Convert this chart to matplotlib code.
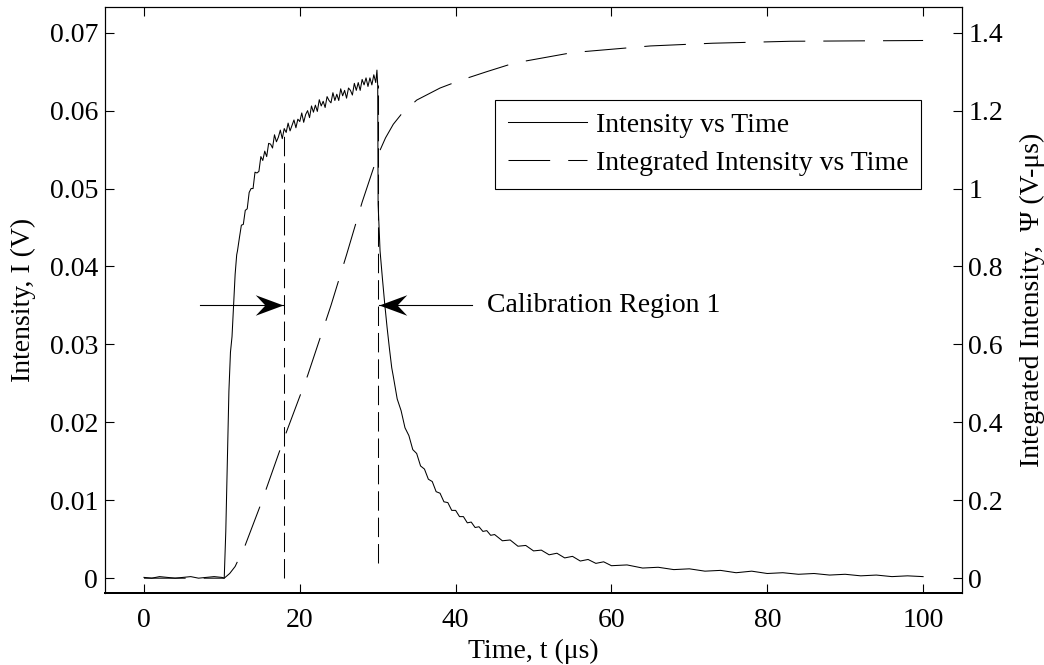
import matplotlib
matplotlib.use("Agg")
import matplotlib.pyplot as plt
from matplotlib.path import Path

plt.rcParams["font.family"] = ["Liberation Serif", "DejaVu Serif"]
plt.rcParams["lines.scale_dashes"] = False

# intensity trace (V)
time_i = [0, 1, 2, 3, 4, 5, 6, 7, 8, 9, 10, 10.3,
          10.5, 10.7, 10.9, 11.1, 11.3, 11.5, 11.7, 11.9,
          12.00, 12.25, 12.50, 12.75, 13.00, 13.25, 13.50, 13.75, 14.00, 14.25,
          14.50, 14.75, 15.00, 15.25, 15.50, 15.75, 16.00, 16.25, 16.50, 16.75,
          17.00, 17.25, 17.50, 17.75, 18.00, 18.25, 18.50, 18.75, 19.00, 19.25,
          19.50, 19.75, 20.00, 20.25, 20.50, 20.75, 21.00, 21.25, 21.50, 21.75,
          22.00, 22.25, 22.50, 22.75, 23.00, 23.25, 23.50, 23.75, 24.00, 24.25,
          24.50, 24.75, 25.00, 25.25, 25.50, 25.75, 26.00, 26.25, 26.50, 26.75,
          27.00, 27.25, 27.50, 27.75, 28.00, 28.25, 28.50, 28.75, 29.00, 29.25,
          29.50, 29.75, 29.90, 30.00, 30.05,
          30.3, 30.6, 30.9, 31.2, 31.5, 31.8, 32.0, 32.5, 33.0, 33.5, 34.0, 34.5,
          35.0, 35.5, 36.0, 36.5, 37.0, 37.5, 38.0, 38.5, 39.0, 39.5, 40.0, 40.5,
          41.0, 41.5, 42.0, 42.5, 43.0, 43.5, 44.0, 44.5, 45.0,
          46, 47, 48, 49, 50, 51, 52, 53, 54, 55, 56, 57, 58, 59, 60,
          62, 64, 66, 68, 70, 72, 74, 76, 78, 80, 82, 84, 86, 88, 90,
          92, 94, 96, 98, 100]
intensity = [0.0001, 0.0000, 0.0002, 0.0001, 0.0000, 0.0001, 0.0002, 0.0000, 0.0001, 0.0002, 0.0001, 0.0000,
             0.0060, 0.0150, 0.0240, 0.0290, 0.0310, 0.0350, 0.0390, 0.0415,
             0.0420, 0.0437, 0.0453, 0.0454, 0.0472, 0.0474, 0.0495, 0.0500, 0.0500, 0.0521,
             0.0520, 0.0522, 0.0541, 0.0536, 0.0548, 0.0541, 0.0558, 0.0557, 0.0552, 0.0569,
             0.0560, 0.0566, 0.0575, 0.0564, 0.0577, 0.0572, 0.0584, 0.0574, 0.0581, 0.0588,
             0.0578, 0.0589, 0.0586, 0.0597, 0.0585, 0.0595, 0.0600, 0.0591, 0.0606, 0.0598,
             0.0607, 0.0599, 0.0614, 0.0606, 0.0612, 0.0604, 0.0618, 0.0613, 0.0610, 0.0623,
             0.0613, 0.0621, 0.0613, 0.0628, 0.0619, 0.0626, 0.0616, 0.0629, 0.0626, 0.0620,
             0.0635, 0.0626, 0.0636, 0.0626, 0.0640, 0.0633, 0.0642, 0.0631, 0.0642, 0.0633,
             0.0646, 0.0636, 0.0652, 0.0632, 0.0480,
             0.0420, 0.0385, 0.0352, 0.0322, 0.0295, 0.0270, 0.0259, 0.0230, 0.0215, 0.0193, 0.0183, 0.0165,
             0.0160, 0.0144, 0.0140, 0.0127, 0.0124, 0.0111, 0.0109, 0.0098, 0.0097, 0.0087, 0.0087, 0.0079,
             0.0079, 0.0071, 0.0072, 0.0065, 0.0066, 0.0060, 0.0061, 0.0055, 0.0056,
             0.0048, 0.0049, 0.0041, 0.0042, 0.0035, 0.0036, 0.0030, 0.0032, 0.0026, 0.0028, 0.0022, 0.0024,
             0.0019, 0.0021, 0.0016,
             0.0017, 0.0013, 0.0014, 0.0011, 0.0012, 0.0009, 0.0010, 0.0007, 0.0009, 0.0006, 0.0007, 0.0005,
             0.0006, 0.0004, 0.0005, 0.0003, 0.0004, 0.0002, 0.0003, 0.0002]

# integrated intensity (V-us)
time_c = [0, 10.3, 11.0, 11.7, 13.0, 15.0, 18.0, 21.0, 24.0, 26.0, 28.0, 30.0,
          31.0, 32.0, 33.0, 35.0, 38.0, 40.5, 44.0, 47.5, 55.0, 65.0, 73.0, 83.0, 100.0]
integrated = [0, 0, 0.012, 0.030, 0.085, 0.190, 0.360, 0.520, 0.700, 0.830, 0.965, 1.085,
              1.130, 1.165, 1.190, 1.227, 1.258, 1.277, 1.300, 1.322, 1.349, 1.366, 1.373, 1.378, 1.380]

# calibration region markers
region_x = [18, 30]
region_bottom = [0.0, 0.002]
region_top = [0.0567, 0.0633]
arrow_y = 0.035
arrow_tail = [7.2, 42.1]
arrow_tip = [17.8, 30.2]

FS = 20

# stealth-style arrow heads (tip at the origin)
head_right = Path([(0, 0), (-1, 0.37), (-0.65, 0), (-1, -0.37), (0, 0)],
                  [Path.MOVETO, Path.LINETO, Path.LINETO, Path.LINETO, Path.CLOSEPOLY])
head_left = Path([(0, 0), (1, 0.37), (0.65, 0), (1, -0.37), (0, 0)],
                 [Path.MOVETO, Path.LINETO, Path.LINETO, Path.LINETO, Path.CLOSEPOLY])

fig = plt.figure(figsize=(10.44, 6.65), dpi=100)
ax = fig.add_axes([0.1006, 0.1083, 0.8209, 0.8812])
ax2 = ax.twinx()

l1, = ax.plot(time_i, intensity, color="k", lw=0.75)
l2, = ax2.plot(time_c, integrated, color="k", lw=0.75, linestyle=(0, (30, 13)))

ax.vlines(region_x, region_bottom, region_top, colors="k", lw=0.75,
          linestyles=[(0, (14, 5))])

for tail, tip, head in zip(arrow_tail, arrow_tip, [head_right, head_left]):
    ax.plot([tail, tip], [arrow_y, arrow_y], color="k", lw=0.8)
    ax.plot([tip], [arrow_y], marker=head, markersize=40, color="k", mew=0)
ax.text(44.0, arrow_y, "Calibration Region 1", fontsize=FS, va="center", ha="left")

ax.set_xlim(-5, 105)
ax.set_ylim(-0.0019, 0.0733)
ax2.set_ylim(-0.038, 1.466)

ax.set_xticks([0, 20, 40, 60, 80, 100])
ax.set_yticks([0, 0.01, 0.02, 0.03, 0.04, 0.05, 0.06, 0.07])
ax.set_yticklabels(["0", "0.01", "0.02", "0.03", "0.04", "0.05", "0.06", "0.07"])
ax2.set_yticks([0, 0.2, 0.4, 0.6, 0.8, 1.0, 1.2, 1.4])
ax2.set_yticklabels(["0", "0.2", "0.4", "0.6", "0.8", "1", "1.2", "1.4"])

ax.tick_params(direction="in", length=6.2, width=0.8, top=True, right=False,
               labelsize=FS, pad=5)
ax.tick_params(axis="x", pad=10.5)
ax2.tick_params(direction="in", length=6.2, width=0.8, right=True, left=False,
                labelsize=FS, pad=4.5)

for a in (ax, ax2):
    for s in a.spines.values():
        s.set_linewidth(0.8)
    a.spines["bottom"].set_linewidth(1.4)

ax.set_xlabel("Time, t (\u03bcs)", fontsize=FS)
ax.set_ylabel("Intensity, I (V)", fontsize=FS)
ax2.set_ylabel("Integrated Intensity,  \u03a8 (V-\u03bcs)", fontsize=FS)
ax.xaxis.set_label_coords(0.5, -0.079)
ax.yaxis.set_label_coords(-0.080, 0.5)
ax2.yaxis.set_label_coords(1.068, 0.5)

leg = ax2.legend([l1, l2], ["Intensity vs Time", "Integrated Intensity vs Time"],
                 loc="upper right", bbox_to_anchor=(0.9525, 0.841), fontsize=FS,
                 handlelength=2.85, handletextpad=0.34, borderpad=0.45, labelspacing=0.45,
                 borderaxespad=0, fancybox=False, framealpha=1, edgecolor="k")
leg.get_frame().set_linewidth(0.8)

fig.savefig("out.png", dpi=100)
